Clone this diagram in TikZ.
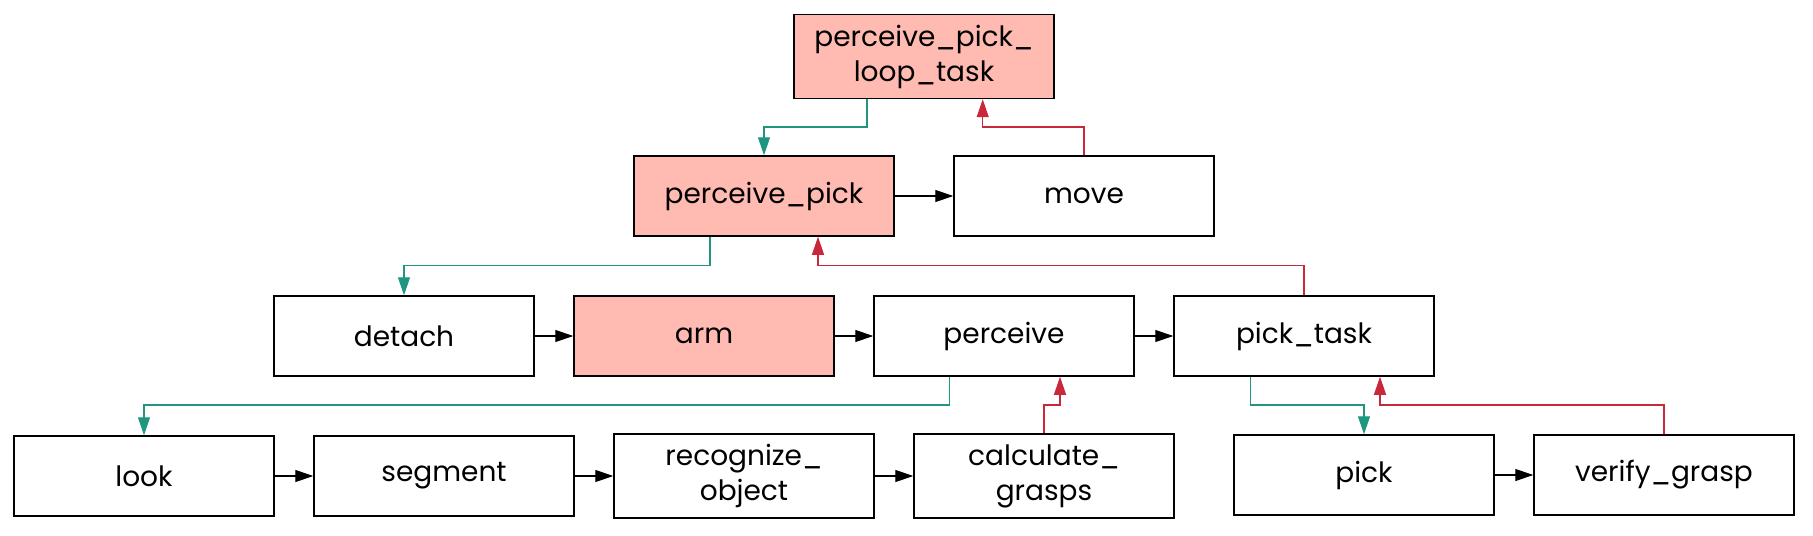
\documentclass[tikz,border=0pt]{standalone}
\usepackage{fontspec}
\setmainfont{Poppins}
\usetikzlibrary{arrows.meta,calc}
\definecolor{boxfill}{HTML}{FFBBB1}
\definecolor{grn}{HTML}{1E9680}
\definecolor{rd}{HTML}{C9283A}
\begin{document}
\begin{tikzpicture}[x=0.5pt,y=-0.5pt,
  tbox/.style={draw=black,line width=0.75pt,minimum width=130pt,minimum height=40pt,inner sep=0pt,align=center,font=\fontsize{14}{17.5}\selectfont},
  hot/.style={tbox,fill=boxfill},
  tip/.style={-{Triangle[length=9pt,width=6pt]}},
  seq/.style={tip,black,line width=0.6pt},
  gline/.style={tip,grn,line width=0.6pt},
  rline/.style={tip,rd,line width=0.6pt}]
\useasboundingbox (0,0) rectangle (1813,535);
\node[hot,minimum height=42pt] (top) at (924,56.5) {perceive\_pick\_\\loop\_task};
\node[hot] (pp) at (764,196) {perceive\_pick};
\node[tbox] (move) at (1084,196) {move};
\node[tbox] (detach) at (404,336) {detach};
\node[hot] (arm) at (704,336) {arm};
\node[tbox] (perceive) at (1004,336) {perceive};
\node[tbox] (picktask) at (1304,336) {pick\_task};
\node[tbox] (look) at (144,476) {look};
\node[tbox] (segment) at (444,476) {segment};
\node[tbox,minimum height=42pt] (recog) at (744,476) {recognize\_\\object};
\node[tbox,minimum height=42pt] (calc) at (1044,476) {calculate\_\\grasps};
\node[tbox] (pick) at (1364,475) {pick};
\node[tbox] (verify) at (1664,475) {verify\_grasp};
% junction levels
\coordinate (j1) at (0,127);
\coordinate (j2) at (0,265.7);
\coordinate (j3) at (0,405);
% sequence arrows
\draw[seq] (pp) -- (move);
\draw[seq] (detach) -- (arm);
\draw[seq] (arm) -- (perceive);
\draw[seq] (perceive) -- (picktask);
\draw[seq] (look) -- (segment);
\draw[seq] (segment) -- (recog);
\draw[seq] (recog) -- (calc);
\draw[seq] (pick) -- (verify);
% down (green)
\coordinate (s1) at ($(top.south)+(-57,0)$);
\draw[gline] (s1) -- (s1 |- j1) -| (pp.north);
\coordinate (s2) at ($(pp.south)+(-54,0)$);
\draw[gline] (s2) -- (s2 |- j2) -| (detach.north);
\coordinate (s3) at ($(perceive.south)+(-54.5,0)$);
\draw[gline] (s3) -- (s3 |- j3) -| (look.north);
\coordinate (s4) at ($(picktask.south)+(-53.3,0)$);
\draw[gline] (s4) -- (s4 |- j3) -| (pick.north);
% up (red)
\coordinate (e1) at ($(top.south)+(58.7,0)$);
\draw[rline] (move.north) |- (j1 -| e1) -- (e1);
\coordinate (e2) at ($(pp.south)+(54,0)$);
\draw[rline] (picktask.north) |- (j2 -| e2) -- (e2);
\coordinate (e3) at ($(perceive.south)+(56,0)$);
\draw[rline] (calc.north) |- (j3 -| e3) -- (e3);
\coordinate (e4) at ($(picktask.south)+(76,0)$);
\draw[rline] (verify.north) |- (j3 -| e4) -- (e4);
\end{tikzpicture}
\end{document}
